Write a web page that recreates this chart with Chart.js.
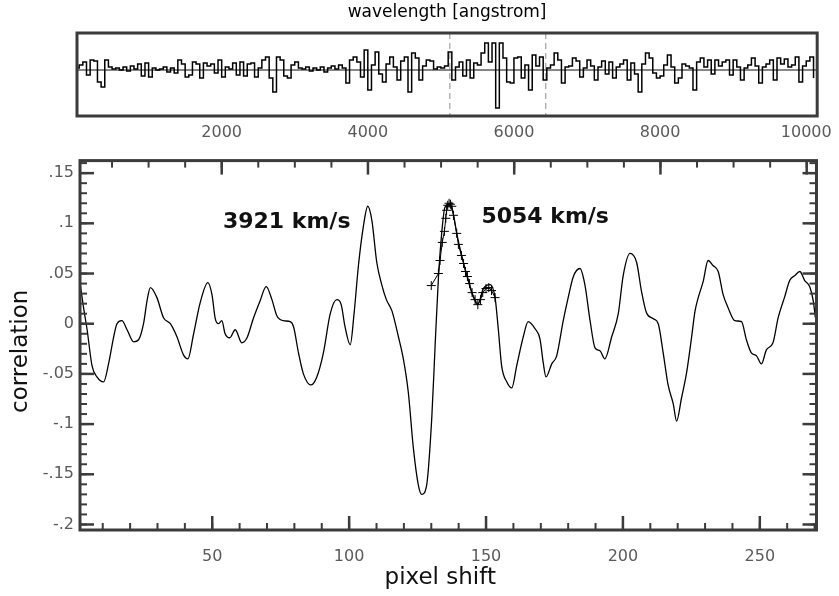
<!DOCTYPE html>
<html>
<head>
<meta charset="utf-8">
<title>Cross-correlation</title>
<script src="https://cdn.jsdelivr.net/npm/chart.js@4.4.1/dist/chart.umd.min.js"></script>
<style>
  body { margin: 0; background: #fff; }
  #spectrumBox { position: absolute; left: 0; top: 0; width: 839px; height: 145px; }
  #correlationBox { position: absolute; left: 0; top: 145px; width: 839px; height: 451px; }
</style>
</head>
<body>
<div id="spectrumBox"><canvas id="spectrumChart"></canvas></div>
<div id="correlationBox"><canvas id="correlationChart"></canvas></div>
<script>
// spectrum in the top strip: one flux value every 50 angstrom, starting at 0
const spectrumStart = 0;
const spectrumStep = 50;
const spectrumFlux = [
  0.02, 0.05, 0.08, -0.05, 0.10, 0.09, -0.12, -0.17, 0.10, 0.03,
  0.01, 0.02, 0.00, 0.03, -0.01, 0.04, 0.01, 0.06, -0.06, 0.07,
  -0.07, 0.02, 0.00, 0.01, 0.03, -0.02, 0.02, -0.03, 0.10, 0.06,
  -0.07, -0.05, 0.08, 0.06, -0.08, 0.07, 0.04, 0.06, -0.03, 0.10,
  -0.07, 0.03, 0.01, 0.07, -0.05, 0.08, -0.06, 0.06, 0.07, -0.07,
  0.02, 0.10, 0.13, -0.08, -0.22, 0.13, 0.10, -0.06, -0.08, 0.05,
  0.08, 0.02, 0.01, 0.03, -0.01, 0.02, 0.00, 0.03, -0.02, 0.02,
  0.04, 0.01, 0.05, 0.02, -0.13, 0.10, 0.13, 0.08, -0.07, 0.20,
  -0.20, 0.05, 0.18, -0.04, -0.12, 0.06, 0.13, 0.03, -0.10, 0.09,
  0.13, -0.22, 0.17, 0.12, -0.10, 0.04, 0.10, 0.09, 0.01, 0.03,
  0.02, 0.04, 0.18, -0.10, 0.03, 0.08, -0.06, 0.10, -0.08, 0.07,
  0.05, 0.17, 0.27, 0.08, 0.27, -0.38, 0.27, 0.12, -0.12, -0.13,
  0.12, 0.13, -0.08, 0.05, -0.20, 0.15, 0.04, 0.13, -0.10, 0.02,
  0.05, 0.17, 0.10, -0.13, 0.03, 0.04, 0.12, 0.09, -0.07, 0.02,
  0.10, 0.04, -0.10, 0.03, 0.09, -0.04, 0.08, -0.08, 0.03, 0.06,
  0.10, -0.10, 0.07, -0.04, -0.22, 0.06, 0.17, 0.12, -0.03, -0.08,
  -0.06, 0.05, 0.15, 0.03, -0.13, -0.08, 0.06, 0.04, 0.02, -0.20,
  0.08, 0.12, 0.03, 0.10, -0.04, 0.10, 0.04, 0.08, 0.10, -0.05,
  0.10, 0.03, -0.10, 0.02, 0.05, 0.12, 0.04, -0.13, 0.03, 0.06,
  0.10, -0.10, 0.12, 0.06, 0.11, 0.03, 0.05, 0.13, -0.12, 0.04,
  0.09, 0.13, -0.08
];
const wavelengthTicks = [2000, 4000, 6000, 8000, 10000];
const windowEdges = [5122, 6435];

// correlation against pixel shift
const pixelShift = [
  1.8, 3.0, 4.3, 6.1, 7.9, 10.3, 12.2, 14.0, 15.2, 17.0,
  18.9, 21.3, 23.1, 24.9, 26.2, 27.4, 29.8, 32.2, 34.7, 37.1,
  39.5, 41.1, 43.2, 45.6, 48.4, 49.9, 51.1, 52.3, 53.5, 54.7,
  56.4, 58.4, 60.8, 62.7, 65.1, 67.5, 69.7, 71.8, 73.6, 76.0,
  78.5, 79.7, 81.5, 83.3, 86.0, 88.2, 90.6, 93.1, 95.5, 97.1,
  98.5, 100.4, 101.8, 103.4, 105.2, 106.8, 108.3, 110.1, 111.9, 113.6,
  115.6, 118.0, 119.8, 121.6, 123.5, 125.3, 126.5, 128.3, 130.2, 131.4,
  132.6, 133.8, 135.0, 136.9, 138.1, 139.3, 141.1, 143.0, 145.0, 147.0,
  149.0, 151.5, 153.3, 154.5, 155.7, 157.6, 159.4, 161.2, 163.6, 165.4,
  167.9, 169.7, 170.9, 171.9, 174.0, 175.8, 178.2, 180.0, 181.9, 184.3,
  186.1, 188.0, 189.8, 191.6, 193.4, 195.9, 198.3, 200.1, 202.6, 205.0,
  206.8, 208.6, 211.1, 212.9, 214.7, 216.5, 218.4, 219.6, 221.4, 223.3,
  225.1, 226.3, 227.5, 229.3, 231.1, 232.9, 234.8, 236.6, 238.4, 240.9,
  243.3, 245.1, 246.9, 248.8, 250.6, 252.4, 254.8, 256.7, 259.1, 260.9,
  262.8, 264.6, 266.4, 268.2, 269.5, 270.3
];
const correlation = [
  0.039, 0.016, -0.006, -0.042, -0.053, -0.058, -0.039, -0.013, 0.000, 0.003,
  -0.006, -0.018, -0.016, 0.000, 0.023, 0.036, 0.026, 0.006, 0.000, -0.013,
  -0.031, -0.035, -0.010, 0.021, 0.041, 0.029, 0.005, 0.000, 0.003, -0.010,
  -0.014, -0.006, -0.019, -0.014, 0.006, 0.023, 0.037, 0.024, 0.008, 0.003,
  0.002, -0.003, -0.029, -0.050, -0.061, -0.053, -0.029, 0.010, 0.024, 0.019,
  -0.003, -0.021, 0.010, 0.058, 0.097, 0.117, 0.103, 0.061, 0.039, 0.024,
  0.013, -0.013, -0.035, -0.068, -0.125, -0.161, -0.170, -0.161, -0.093, -0.022,
  0.045, 0.090, 0.116, 0.119, 0.109, 0.090, 0.068, 0.048, 0.029, 0.019,
  0.035, 0.039, 0.026, -0.006, -0.042, -0.058, -0.064, -0.042, -0.013, 0.002,
  -0.005, -0.015, -0.039, -0.053, -0.040, -0.032, 0.003, 0.026, 0.047, 0.055,
  0.039, 0.003, -0.024, -0.027, -0.035, -0.013, 0.010, 0.048, 0.070, 0.061,
  0.032, 0.011, 0.005, 0.000, -0.029, -0.061, -0.080, -0.097, -0.074, -0.048,
  -0.013, 0.012, 0.026, 0.042, 0.063, 0.058, 0.052, 0.029, 0.016, 0.003,
  0.002, -0.016, -0.029, -0.032, -0.040, -0.026, -0.019, 0.006, 0.027, 0.043,
  0.048, 0.052, 0.043, 0.037, 0.023, 0.006
];

// fitted points round the second peak
const fitShift = [
  130.0, 132.6, 133.2, 134.0, 134.8, 135.3, 135.6, 136.0, 136.5, 137.0,
  137.5, 138.1, 139.3, 139.9, 141.0, 141.8, 142.5, 143.2, 144.0, 144.9,
  146.0, 147.0, 148.0, 148.8, 150.0, 151.0, 152.0, 153.3
];
const fitCorrelation = [
  0.038, 0.050, 0.063, 0.081, 0.092, 0.105, 0.113, 0.118, 0.120, 0.119,
  0.117, 0.108, 0.090, 0.079, 0.068, 0.060, 0.052, 0.047, 0.040, 0.031,
  0.024, 0.019, 0.024, 0.031, 0.035, 0.036, 0.033, 0.026
];

const shiftTicks = [50, 100, 150, 200, 250];
const corrTicks = [-0.2, -0.15, -0.1, -0.05, 0, 0.05, 0.1, 0.15];
const corrTickLabels = ['-.2', '-.15', '-.1', '-.05', '0', '.05', '.1', '.15'];

const peakLabels = ['3921 km/s', '5054 km/s'];
const peakLabelShift = [53.9, 148.3];
const peakLabelCorr = [0.101, 0.1057];

const tickFont = { family: 'DejaVu Sans', size: 16 };
const tickColor = '#5a5a5a';
const frameColor = '#3b3b3b';

function range(from, to, step) {
  const out = [];
  for (let v = from; v <= to + 1e-9; v += step) out.push(+v.toFixed(4));
  return out;
}

function tickX(ctx, scale, values, y, dir, len) {
  values.forEach(v => {
    if (v < scale.min || v > scale.max) return;
    const x = scale.getPixelForValue(v);
    ctx.beginPath();
    ctx.moveTo(x, y);
    ctx.lineTo(x, y + dir * len);
    ctx.stroke();
  });
}

function tickY(ctx, scale, values, x, dir, len) {
  values.forEach(v => {
    if (v < scale.min || v > scale.max) return;
    const y = scale.getPixelForValue(v);
    ctx.beginPath();
    ctx.moveTo(x, y);
    ctx.lineTo(x + dir * len, y);
    ctx.stroke();
  });
}

// ---------- top strip: the spectrum ----------
const spectrumPoints = spectrumFlux.map((f, i) => ({ x: spectrumStart + i * spectrumStep, y: f }));

const spectrumDecor = {
  id: 'spectrumDecor',
  beforeDatasetsDraw(chart) {
    const { ctx, chartArea: a, scales } = chart;
    ctx.save();
    // window edges
    ctx.strokeStyle = '#a8a8a8';
    ctx.lineWidth = 1.3;
    ctx.setLineDash([6, 4]);
    windowEdges.forEach(w => {
      const x = scales.x.getPixelForValue(w);
      ctx.beginPath();
      ctx.moveTo(x, a.top);
      ctx.lineTo(x, a.bottom);
      ctx.stroke();
    });
    ctx.setLineDash([]);
    // zero level
    const y0 = scales.y.getPixelForValue(0);
    ctx.strokeStyle = '#111';
    ctx.lineWidth = 1.2;
    ctx.beginPath();
    ctx.moveTo(a.left, y0);
    ctx.lineTo(a.right, y0);
    ctx.stroke();
    ctx.restore();
  },
  afterDraw(chart) {
    const { ctx, chartArea: a } = chart;
    ctx.save();
    ctx.strokeStyle = frameColor;
    ctx.lineWidth = 3;
    ctx.strokeRect(a.left, a.top, a.right - a.left, a.bottom - a.top);
    ctx.restore();
  }
};

new Chart(document.getElementById('spectrumChart'), {
  type: 'line',
  data: {
    datasets: [{
      data: spectrumPoints,
      borderColor: '#000',
      borderWidth: 1.5,
      pointRadius: 0,
      stepped: true
    }]
  },
  options: {
    responsive: true,
    maintainAspectRatio: false,
    animation: false,
    layout: { padding: { left: 77, right: 21, top: 0, bottom: 0 } },
    plugins: {
      legend: { display: false },
      tooltip: { enabled: false },
      title: {
        display: true,
        fullSize: false,
        text: 'wavelength [angstrom]',
        color: '#000',
        font: { family: 'DejaVu Sans', size: 17, weight: 'normal' },
        padding: { top: 2, bottom: 10.6 }
      }
    },
    scales: {
      x: {
        type: 'linear',
        min: 20,
        max: 10150,
        afterBuildTicks: s => { s.ticks = wavelengthTicks.map(v => ({ value: v })); },
        afterFit: s => { s.height = 29; },
        grid: { display: false, drawTicks: false },
        border: { display: false },
        ticks: {
          font: tickFont,
          color: tickColor,
          padding: 7,
          maxRotation: 0,
          autoSkip: false,
          callback: v => String(v)
        }
      },
      y: {
        display: false,
        min: -0.46,
        max: 0.37
      }
    }
  },
  plugins: [spectrumDecor]
});

// ---------- main panel: correlation ----------
const correlationPoints = pixelShift.map((s, i) => ({ x: s, y: correlation[i] }));
const fitPoints = fitShift.map((s, i) => ({ x: s, y: fitCorrelation[i] }));

const correlationDecor = {
  id: 'correlationDecor',
  afterDraw(chart) {
    const { ctx, chartArea: a, scales } = chart;
    ctx.save();
    ctx.strokeStyle = frameColor;
    ctx.lineWidth = 3;
    ctx.strokeRect(a.left, a.top, a.right - a.left, a.bottom - a.top);

    // inward ticks on all four sides
    ctx.lineWidth = 2;
    tickX(ctx, scales.x, range(10, 270, 10), a.bottom, -1, 7);
    tickY(ctx, scales.y, range(-0.2, 0.16, 0.01), a.left, 1, 7);
    tickY(ctx, scales.y, range(-0.2, 0.16, 0.01), a.right, -1, 7);
    tickX(ctx, scales.x2, range(500, 10000, 500), a.top, 1, 7);
    ctx.lineWidth = 2.5;
    tickX(ctx, scales.x, shiftTicks, a.bottom, -1, 14);
    tickY(ctx, scales.y, corrTicks, a.left, 1, 14);
    tickY(ctx, scales.y, corrTicks, a.right, -1, 14);
    tickX(ctx, scales.x2, range(2000, 10000, 2000), a.top, 1, 14);

    // velocity labels beside the two peaks
    ctx.fillStyle = '#111';
    ctx.font = 'bold 22px "DejaVu Sans"';
    ctx.textAlign = 'left';
    ctx.textBaseline = 'middle';
    peakLabels.forEach((t, i) => {
      ctx.fillText(t, scales.x.getPixelForValue(peakLabelShift[i]), scales.y.getPixelForValue(peakLabelCorr[i]));
    });

    // axis titles
    ctx.font = '23px "DejaVu Sans"';
    ctx.textAlign = 'center';
    ctx.fillText('pixel shift', (a.left + a.right) / 2 - 8, a.bottom + 48);
    ctx.translate(21, (a.top + a.bottom) / 2 + 6);
    ctx.rotate(-Math.PI / 2);
    ctx.fillText('correlation', 0, 0);
    ctx.restore();
  }
};

new Chart(document.getElementById('correlationChart'), {
  type: 'line',
  data: {
    datasets: [
      {
        data: fitPoints,
        borderColor: '#000',
        borderWidth: 1,
        pointStyle: 'cross',
        pointRadius: 4.5,
        pointBorderWidth: 1,
        pointBorderColor: '#000'
      },
      {
        data: correlationPoints,
        borderColor: '#000',
        borderWidth: 1.3,
        pointRadius: 0,
        cubicInterpolationMode: 'monotone'
      }
    ]
  },
  options: {
    responsive: true,
    maintainAspectRatio: false,
    animation: false,
    layout: { padding: { left: 0, right: 22.5, top: 3, bottom: 0 } },
    plugins: {
      legend: { display: false },
      tooltip: { enabled: false }
    },
    scales: {
      x: {
        type: 'linear',
        min: 1.7,
        max: 270.7,
        afterBuildTicks: s => { s.ticks = shiftTicks.map(v => ({ value: v })); },
        afterFit: s => { s.height = 66; },
        grid: { display: false, drawTicks: false },
        border: { display: false },
        ticks: {
          font: tickFont,
          color: tickColor,
          padding: 17,
          maxRotation: 0,
          autoSkip: false,
          callback: v => String(v)
        }
      },
      x2: {
        type: 'linear',
        position: 'top',
        display: false,
        min: 62,
        max: 10134
      },
      y: {
        type: 'linear',
        min: -0.2055,
        max: 0.1625,
        afterBuildTicks: s => { s.ticks = corrTicks.map(v => ({ value: v })); },
        afterFit: s => { s.width = 80; },
        grid: { display: false, drawTicks: false },
        border: { display: false },
        ticks: {
          font: tickFont,
          color: tickColor,
          padding: 6,
          callback: (v, i) => corrTickLabels[i]
        }
      }
    }
  },
  plugins: [correlationDecor]
});
</script>
</body>
</html>
